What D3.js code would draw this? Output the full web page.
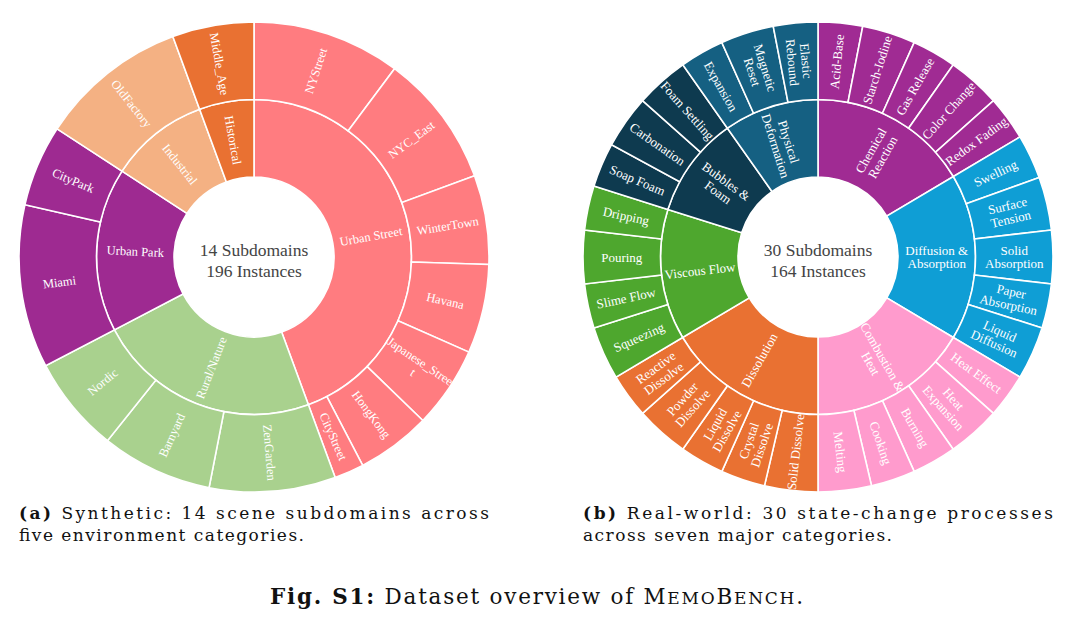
<!DOCTYPE html>
<html>
<head>
<meta charset="utf-8">
<script src="https://cdn.jsdelivr.net/npm/d3@7"></script>
<style>
  body { margin: 0; background: #fff; }
  svg { display: block; }
</style>
</head>
<body>
<div id="figure"></div>
<script>
// ---------------------------//
//       DATA                 //
// ---------------------------//

// (a) synthetic scenes
var synthCategories = ["Urban Street", "Rural/Nature", "Urban Park", "Industrial", "Historical"];
var synthSubdomains = [
  ["NYStreet", "NYC_East", "WinterTown", "Havana", "Japanese_Stree\nt", "HongKong", "CityStreet"],
  ["ZenGarden", "Barnyard", "Nordic"],
  ["Miami", "CityPark"],
  ["OldFactory"],
  ["Middle_Age"]
];
var synthCounts = [
  [20, 18, 12, 12, 11, 10, 4],
  [17, 15, 13],
  [22, 11],
  [20],
  [11]
];
var synthColors = ["#FF7C80", "#A9D18E", "#9E2A91", "#F4B183", "#E97132"];

// (b) real-world processes
var realCategories = ["Chemical\nReaction", "Diffusion &\nAbsorption", "Combustion &\nHeat", "Dissolution",
  "Viscous Flow", "Bubbles &\nFoam", "Physical\nDeformation"];
var realSubdomains = [
  ["Acid-Base", "Starch-Iodine", "Gas Release", "Color Change", "Redox Fading"],
  ["Swelling", "Surface\nTension", "Solid\nAbsorption", "Paper\nAbsorption", "Liquid\nDiffusion"],
  ["Heat Effect", "Heat\nExpansion", "Burning", "Cooking", "Melting"],
  ["Solid Dissolve", "Crystal\nDissolve", "Liquid\nDissolve", "Powder\nDissolve", "Reactive\nDissolve"],
  ["Squeezing", "Slime Flow", "Pouring", "Dripping"],
  ["Soap Foam", "Carbonation", "Foam Settling"],
  ["Expansion", "Magnetic\nReset", "Elastic\nRebound"]
];
var realCounts = [
  [5, 6, 5, 6, 5],
  [5, 6, 6, 5, 6],
  [5, 6, 5, 5, 6],
  [6, 5, 5, 6, 5],
  [6, 5, 6, 5],
  [5, 6, 6],
  [5, 6, 5]
];
var realColors = ["#A02B93", "#0F9ED5", "#FF9BCD", "#E97132", "#4EA72E", "#0E3A4F", "#156082"];

var centerLines = [["14 Subdomains", "196 Instances"], ["30 Subdomains", "164 Instances"]];

// ---------------------------//
//       SVG                  //
// ---------------------------//
var W = 1073, H = 625;
var svg = d3.select("#figure").append("svg")
  .attr("width", W).attr("height", H);
svg.append("rect").attr("width", W).attr("height", H).attr("fill", "#fff");

var labelFont = "'Liberation Serif', 'Times New Roman', serif";

function buildTree(cats, subs, counts) {
  return {
    name: "root",
    children: cats.map(function(c, i) {
      return { name: c, children: subs[i].map(function(s, j) { return { name: s, value: counts[i][j] }; }) };
    })
  };
}

function drawSunburst(cx, cy, cats, subs, counts, colors, center, fontSize) {
  var root = d3.hierarchy(buildTree(cats, subs, counts)).sum(function(d) { return d.value || 0; });
  d3.partition().size([2 * Math.PI, 3])(root);

  var color = d3.scaleOrdinal().domain(cats).range(colors);
  var r = d3.scaleLinear().domain([1, 3]).range([80, 235]);

  var arc = d3.arc()
    .startAngle(function(d) { return d.x0; })
    .endAngle(function(d) { return d.x1; })
    .innerRadius(function(d) { return r(d.y0); })
    .outerRadius(function(d) { return r(d.y1); });

  var g = svg.append("g").attr("transform", "translate(" + cx + "," + cy + ")");
  var nodes = root.descendants().filter(function(d) { return d.depth > 0; });
  var catOf = function(d) { return d.depth === 1 ? d.data.name : d.parent.data.name; };

  g.selectAll("path")
    .data(nodes)
    .enter()
    .append("path")
      .attr("d", arc)
      .attr("fill", function(d) { return color(catOf(d)); })
      .attr("stroke", "#fff")
      .attr("stroke-width", 1.6);

  // radial labels
  var lab = g.selectAll("g.lab")
    .data(nodes)
    .enter()
    .append("g")
      .attr("class", "lab")
      .attr("transform", function(d) {
        var a = (d.x0 + d.x1) / 2;
        var rm = (r(d.y0) + r(d.y1)) / 2;
        var deg = a * 180 / Math.PI;
        var rot = deg - 90;
        if (deg > 180) rot -= 180;
        return "translate(" + (Math.sin(a) * rm) + "," + (-Math.cos(a) * rm) + ") rotate(" + rot + ")";
      });

  lab.each(function(d) {
    var lines = d.data.name.split("\n");
    var lh = fontSize * 1.05;
    var t = d3.select(this).append("text")
      .attr("text-anchor", "middle")
      .attr("font-family", labelFont)
      .attr("font-size", fontSize)
      .attr("fill", "#fff");
    lines.forEach(function(l, i) {
      t.append("tspan")
        .attr("x", 0)
        .attr("y", (i - (lines.length - 1) / 2) * lh + fontSize * 0.35)
        .text(l);
    });
  });

  // center text
  g.selectAll("text.center")
    .data(center)
    .enter()
    .append("text")
      .attr("class", "center")
      .attr("text-anchor", "middle")
      .attr("x", 0)
      .attr("y", function(d, i) { return -1 + i * 21; })
      .attr("font-family", labelFont)
      .attr("font-size", 17.5)
      .attr("fill", "#444")
      .text(function(d) { return d; });
}

drawSunburst(254, 257, synthCategories, synthSubdomains, synthCounts, synthColors, centerLines[0], 12.5);
drawSunburst(818, 257, realCategories, realSubdomains, realCounts, realColors, centerLines[1], 13);

// ---------------------------//
//       CAPTIONS             //
// ---------------------------//
var capFont = "'DejaVu Serif', 'Liberation Serif', serif";

function subCaption(x, tag, line1, line2, len2) {
  var t1 = svg.append("text")
    .attr("x", x).attr("y", 519)
    .attr("font-family", capFont)
    .attr("font-size", 17)
    .attr("fill", "#111")
    .attr("textLength", 470)
    .attr("lengthAdjust", "spacing");
  t1.append("tspan").attr("font-weight", "bold").text(tag);
  t1.append("tspan").text(" " + line1);
  svg.append("text")
    .attr("x", x).attr("y", 541)
    .attr("font-family", capFont)
    .attr("font-size", 17)
    .attr("fill", "#111")
    .attr("textLength", len2)
    .attr("lengthAdjust", "spacing")
    .text(line2);
}
subCaption(19, "(a)", "Synthetic: 14 scene subdomains across", "five environment categories.", 285);
subCaption(583, "(b)", "Real-world: 30 state-change processes", "across seven major categories.", 309);

var fig = svg.append("text")
  .attr("x", 270).attr("y", 604)
  .attr("font-family", capFont)
  .attr("font-size", 21.5)
  .attr("fill", "#111")
  .attr("textLength", 533)
  .attr("lengthAdjust", "spacing");
fig.append("tspan").attr("font-weight", "bold").text("Fig. S1:");
fig.append("tspan").text(" Dataset overview of M");
fig.append("tspan").attr("font-size", 17).text("EMO");
fig.append("tspan").text("B");
fig.append("tspan").attr("font-size", 17).text("ENCH");
fig.append("tspan").text(".");
</script>
</body>
</html>
